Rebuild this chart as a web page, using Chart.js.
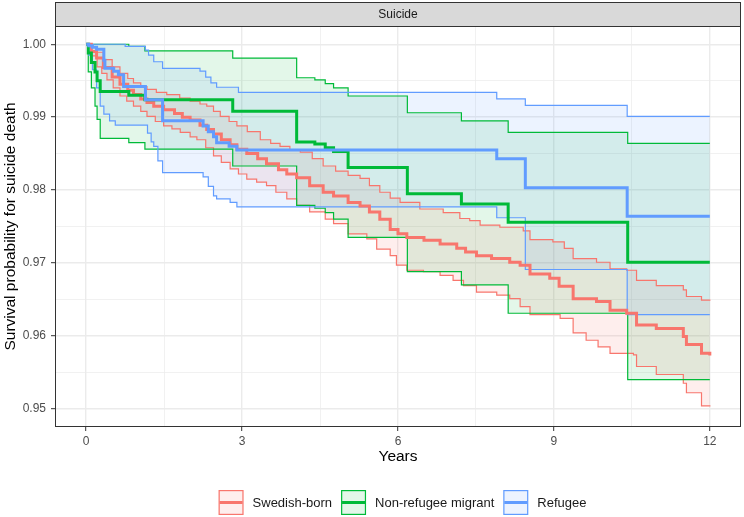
<!DOCTYPE html>
<html>
<head>
<meta charset="utf-8">
<script src="https://cdn.jsdelivr.net/npm/chart.js@4.4.1/dist/chart.umd.min.js"></script>
<style>
  html, body { margin: 0; padding: 0; background: #ffffff; }
</style>
</head>
<body>
<canvas id="km-chart" width="744" height="517"></canvas>
<script>
// Kaplan-Meier curves: [years, survival]
var groups = ['Swedish-born', 'Non-refugee migrant', 'Refugee'];
var facetTitle = 'Suicide';

var swedishEst = [[0,1],[0.1,0.9990],[0.2,0.9981],[0.33,0.9968],[0.5,0.9955],[0.65,0.9945],[0.8,0.9937],[0.91,0.9931],[1.05,0.9925],[1.17,0.9920],[1.3,0.9915],[1.49,0.9910],[1.7,0.9905],[1.85,0.9900],[2.0,0.9896],[2.19,0.9889],[2.32,0.9883],[2.45,0.9877],[2.6,0.9869],[2.77,0.9862],[2.9,0.9856],[3.09,0.9850],[3.3,0.9843],[3.47,0.9836],[3.7,0.9828],[3.86,0.9822],[4.05,0.9817],[4.3,0.9806],[4.56,0.9797],[4.76,0.9792],[5.04,0.9783],[5.27,0.9778],[5.45,0.9770],[5.65,0.9760],[5.85,0.9746],[6.0,0.9740],[6.17,0.9735],[6.5,0.9731],[6.81,0.9726],[7.13,0.9720],[7.3,0.9715],[7.51,0.9710],[7.8,0.9706],[8.15,0.9701],[8.35,0.9697],[8.54,0.9685],[8.92,0.9679],[9.1,0.9668],[9.37,0.9651],[9.82,0.9647],[10.08,0.9635],[10.4,0.9631],[10.59,0.9615],[10.97,0.9610],[11.49,0.9599],[11.55,0.9588],[11.84,0.9576],[12,0.9573]];
var swedishUpper = [[0,1],[0.1,0.9996],[0.2,0.9989],[0.33,0.9979],[0.5,0.9969],[0.65,0.9960],[0.8,0.9953],[0.91,0.9947],[1.05,0.9942],[1.17,0.9938],[1.35,0.9934],[1.55,0.9931],[1.8,0.9926],[2.0,0.9922],[2.19,0.9918],[2.32,0.9915],[2.45,0.9908],[2.58,0.9901],[2.75,0.9894],[2.9,0.9888],[3.1,0.9880],[3.35,0.9869],[3.55,0.9864],[3.73,0.9860],[3.92,0.9855],[4.12,0.9852],[4.35,0.9843],[4.56,0.9833],[4.8,0.9826],[5.04,0.9820],[5.27,0.9816],[5.45,0.9806],[5.65,0.9797],[5.85,0.9789],[6.04,0.9783],[6.42,0.9774],[6.87,0.9769],[7.19,0.9761],[7.38,0.9758],[7.58,0.9752],[7.96,0.9749],[8.41,0.9744],[8.54,0.9732],[8.98,0.9729],[9.2,0.9720],[9.37,0.9706],[9.82,0.9701],[10.08,0.9692],[10.4,0.9690],[10.59,0.9676],[10.97,0.9669],[11.49,0.9663],[11.55,0.9654],[11.84,0.9649],[12,0.9648]];
var swedishLower = [[0,1],[0.1,0.9984],[0.21,0.9969],[0.3,0.9960],[0.4,0.9951],[0.52,0.9940],[0.65,0.9929],[0.78,0.9922],[0.91,0.9915],[1.05,0.9908],[1.17,0.9901],[1.33,0.9894],[1.49,0.9888],[1.65,0.9884],[1.81,0.9879],[2.0,0.9873],[2.13,0.9869],[2.3,0.9858],[2.45,0.9847],[2.6,0.9838],[2.77,0.9829],[2.93,0.9822],[3.09,0.9815],[3.28,0.9811],[3.47,0.9806],[3.65,0.9797],[3.86,0.9788],[4.05,0.9779],[4.3,0.9770],[4.6,0.9760],[4.76,0.9754],[5.04,0.9740],[5.4,0.9733],[5.59,0.9719],[5.85,0.9710],[5.97,0.9697],[6.17,0.9690],[6.49,0.9688],[6.81,0.9683],[7.06,0.9676],[7.26,0.9669],[7.51,0.9660],[7.9,0.9656],[8.15,0.9651],[8.35,0.9640],[8.54,0.9629],[9.12,0.9624],[9.37,0.9604],[9.62,0.9594],[9.85,0.9585],[10.08,0.9576],[10.53,0.9574],[10.59,0.9558],[10.97,0.9547],[11.49,0.9535],[11.55,0.9522],[11.84,0.9504],[12,0.9503]];

var migrantEst = [[0,1],[0.04,0.9988],[0.1,0.9975],[0.17,0.9962],[0.21,0.9950],[0.27,0.9935],[0.82,0.9930],[1.13,0.9924],[2.82,0.9908],[4.05,0.9866],[4.4,0.9863],[4.6,0.9858],[4.76,0.9853],[5.04,0.9831],[6.18,0.9795],[7.22,0.9781],[8.12,0.9756],[10.42,0.9701],[12,0.9701]];
var migrantUpper = [[0,1],[0.82,0.9997],[1.13,0.9991],[2.82,0.9981],[4.05,0.9954],[4.4,0.9951],[4.6,0.9946],[4.76,0.9940],[5.04,0.9929],[6.18,0.9906],[7.22,0.9895],[8.12,0.9879],[10.42,0.9864],[12,0.9864]];
var migrantLower = [[0,1],[0.04,0.9962],[0.1,0.9940],[0.17,0.9915],[0.21,0.9897],[0.27,0.9871],[0.82,0.9865],[1.13,0.9856],[2.82,0.9833],[4.05,0.9779],[4.4,0.9775],[4.6,0.9769],[4.76,0.9760],[5.04,0.9735],[6.18,0.9688],[7.22,0.9670],[8.12,0.9631],[10.42,0.9540],[12,0.9540]];

var refugeeEst = [[0,1],[0.05,0.9998],[0.12,0.9996],[0.2,0.9993],[0.34,0.9978],[0.36,0.9967],[0.53,0.9963],[0.62,0.9958],[0.72,0.9942],[1.14,0.9924],[1.47,0.9895],[2.25,0.9888],[2.35,0.9880],[2.45,0.9873],[2.51,0.9865],[2.75,0.9860],[2.9,0.9855],[7.9,0.9843],[8.45,0.9803],[10.41,0.9764],[12,0.9764]];
var refugeeUpper = [[0,1],[0.75,0.9997],[1.14,0.9992],[1.2,0.9985],[1.3,0.9976],[1.47,0.9967],[2.19,0.9963],[2.3,0.9955],[2.4,0.9947],[2.51,0.9941],[2.93,0.9934],[7.9,0.9925],[8.45,0.9916],[10.41,0.9901],[12,0.9901]];
var refugeeLower = [[0,1],[0.05,0.9985],[0.12,0.9965],[0.2,0.9940],[0.27,0.9915],[0.34,0.9904],[0.45,0.9895],[0.56,0.9889],[1.18,0.9878],[1.25,0.9866],[1.3,0.9860],[1.38,0.9840],[1.47,0.9824],[2.25,0.9818],[2.35,0.9805],[2.45,0.9792],[2.51,0.9788],[2.77,0.9783],[2.9,0.9777],[7.9,0.9762],[8.45,0.9691],[10.41,0.9629],[12,0.9629]];

var xMajor = [0, 3, 6, 9, 12];
var xMinor = [1.5, 4.5, 7.5, 10.5];
var xTickLabels = ['0', '3', '6', '9', '12'];
var yMajor = [0.95, 0.96, 0.97, 0.98, 0.99, 1.00];
var yMinor = [0.955, 0.965, 0.975, 0.985, 0.995];
var yTickLabels = ['0.95', '0.96', '0.97', '0.98', '0.99', '1.00'];

var lineColors = ['#F8766D', '#00BA38', '#619CFF'];
var fillColors = ['rgba(248,118,109,0.12)', 'rgba(0,186,56,0.11)', 'rgba(97,156,255,0.12)'];
var FONT = '"Liberation Sans", Arial, Helvetica, sans-serif';

function toXY(pairs) {
    return pairs.map(function(p) { return {x: p[0], y: p[1]}; });
}

function findIndex(list, v) {
    for (var i = 0; i < list.length; i++) {
        if (Math.abs(list[i] - v) < 1e-9) return i;
    }
    return -1;
}

function stepLine(label, pairs, color, width, fill, bg) {
    return {
        label: label,
        data: toXY(pairs),
        borderColor: color,
        borderWidth: width,
        backgroundColor: bg || 'rgba(0,0,0,0)',
        fill: fill,
        stepped: 'before',
        pointRadius: 0,
        pointHoverRadius: 0,
        tension: 0
    };
}

// dataset 0 is drawn on top, so estimates first; CI upper lines fill down to their lower line
var datasets = [
    stepLine('Refugee', refugeeEst, lineColors[2], 3, false),
    stepLine('Non-refugee migrant', migrantEst, lineColors[1], 3, false),
    stepLine('Swedish-born', swedishEst, lineColors[0], 3, false),
    stepLine('refugee upper', refugeeUpper, lineColors[2], 1.2, {target: 4}, fillColors[2]),
    stepLine('refugee lower', refugeeLower, lineColors[2], 1.2, false),
    stepLine('migrant upper', migrantUpper, lineColors[1], 1.2, {target: 6}, fillColors[1]),
    stepLine('migrant lower', migrantLower, lineColors[1], 1.2, false),
    stepLine('swedish upper', swedishUpper, lineColors[0], 1.2, {target: 8}, fillColors[0]),
    stepLine('swedish lower', swedishLower, lineColors[0], 1.2, false)
];

function gridColor(list) {
    return function(ctx) {
        if (!ctx.tick) return '#EBEBEB';
        return '#EBEBEB';
    };
}

function gridWidth(major) {
    return function(ctx) {
        if (!ctx.tick) return 1;
        return findIndex(major, ctx.tick.value) >= 0 ? 1.4 : 0.7;
    };
}

function tickColor(major) {
    return function(ctx) {
        if (!ctx.tick) return '#333333';
        return findIndex(major, ctx.tick.value) >= 0 ? '#333333' : 'rgba(0,0,0,0)';
    };
}

// strip, panel border, axis titles and the legend, ggplot style
var ggFrame = {
    id: 'ggFrame',
    beforeDraw: function(chart) {
        var ctx = chart.ctx;
        ctx.save();
        ctx.fillStyle = '#ffffff';
        ctx.fillRect(0, 0, chart.width, chart.height);
        ctx.restore();
    },
    afterDraw: function(chart) {
        var ctx = chart.ctx;
        var a = chart.chartArea;
        ctx.save();

        ctx.strokeStyle = '#333333';
        ctx.lineWidth = 1;
        ctx.strokeRect(a.left + 0.5, a.top + 0.5, a.right - a.left - 1, a.bottom - a.top - 1);

        // facet strip
        ctx.fillStyle = '#D9D9D9';
        ctx.fillRect(a.left, 2, a.right - a.left, a.top - 2);
        ctx.strokeRect(a.left + 0.5, 2.5, a.right - a.left - 1, a.top - 2);
        ctx.fillStyle = '#1A1A1A';
        ctx.font = '12px ' + FONT;
        ctx.textAlign = 'center';
        ctx.textBaseline = 'middle';
        ctx.fillText(facetTitle, (a.left + a.right) / 2, (2 + a.top) / 2 + 1);

        // axis titles
        ctx.fillStyle = '#000000';
        ctx.font = '15.5px ' + FONT;
        ctx.fillText('Years', (a.left + a.right) / 2, 457);
        ctx.save();
        ctx.translate(11, (a.top + a.bottom) / 2);
        ctx.rotate(-Math.PI / 2);
        ctx.fillText('Survival probability for suicide death', 0, 0);
        ctx.restore();

        // legend
        ctx.font = '13px ' + FONT;
        var key = 25, gap = 9;
        var total = 0;
        var widths = groups.map(function(g) { return ctx.measureText(g).width; });
        widths.forEach(function(w) { total += key + gap + w; });
        total += gap * (groups.length - 1);
        var x = 402.5 - total / 2;
        var top = 490;
        for (var i = 0; i < groups.length; i++) {
            ctx.fillStyle = '#ffffff';
            ctx.fillRect(x, top, key, key);
            ctx.fillStyle = fillColors[i];
            ctx.fillRect(x, top, key, key);
            ctx.strokeStyle = lineColors[i];
            ctx.lineWidth = 1.2;
            ctx.strokeRect(x + 0.6, top + 0.6, key - 1.2, key - 1.2);
            ctx.lineWidth = 3;
            ctx.beginPath();
            ctx.moveTo(x + 1, top + key / 2);
            ctx.lineTo(x + key - 1, top + key / 2);
            ctx.stroke();
            ctx.fillStyle = '#1A1A1A';
            ctx.textAlign = 'left';
            ctx.fillText(groups[i], x + key + gap, top + key / 2 + 1);
            x += key + gap + widths[i] + gap;
        }
        ctx.restore();
    }
};

var myChart = new Chart(document.getElementById('km-chart'), {
    type: 'line',
    data: { datasets: datasets },
    plugins: [ggFrame],
    options: {
        responsive: false,
        animation: false,
        events: [],
        layout: { padding: { top: 26, right: 3, left: 0, bottom: 0 } },
        plugins: {
            legend: { display: false },
            tooltip: { enabled: false },
            filler: { propagate: false, drawTime: 'beforeDatasetsDraw' }
        },
        scales: {
            x: {
                type: 'linear',
                min: -0.6,
                max: 12.6,
                afterBuildTicks: function(s) {
                    s.ticks = xMajor.concat(xMinor).sort(function(p, q) { return p - q; }).map(function(v) { return {value: v}; });
                },
                afterFit: function(s) { s.height = 90; },
                ticks: {
                    autoSkip: false,
                    maxRotation: 0,
                    padding: 3,
                    color: '#4D4D4D',
                    font: { family: FONT, size: 12 },
                    callback: function(v) {
                        var i = findIndex(xMajor, v);
                        return i >= 0 ? xTickLabels[i] : '';
                    }
                },
                grid: {
                    color: gridColor(xMajor),
                    lineWidth: gridWidth(xMajor),
                    tickLength: 4,
                    tickColor: tickColor(xMajor),
                    tickWidth: 1
                },
                border: { display: false }
            },
            y: {
                type: 'linear',
                min: 0.9475,
                max: 1.0025,
                afterBuildTicks: function(s) {
                    s.ticks = yMajor.concat(yMinor).sort(function(p, q) { return p - q; }).map(function(v) { return {value: v}; });
                },
                afterFit: function(s) { s.width = 55; },
                ticks: {
                    autoSkip: false,
                    padding: 5,
                    color: '#4D4D4D',
                    font: { family: FONT, size: 12 },
                    callback: function(v) {
                        var i = findIndex(yMajor, v);
                        return i >= 0 ? yTickLabels[i] : '';
                    }
                },
                grid: {
                    color: gridColor(yMajor),
                    lineWidth: gridWidth(yMajor),
                    tickLength: 4,
                    tickColor: tickColor(yMajor),
                    tickWidth: 1
                },
                border: { display: false }
            }
        }
    }
});
</script>
</body>
</html>
